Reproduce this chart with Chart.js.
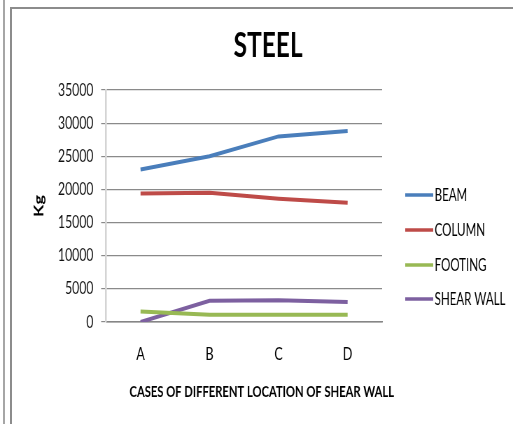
<!DOCTYPE html>
<html>
<head>
<meta charset="utf-8">
<script src="https://cdn.jsdelivr.net/npm/chart.js@4/dist/chart.umd.min.js"></script>
<style>
  html, body { margin: 0; padding: 0; background: #fff; width: 513px; height: 424px; overflow: hidden; }
  /* the chart is laid out on a wider canvas and squeezed horizontally for its condensed look */
  #wrap { position: absolute; left: 0; top: 0; width: 733px; height: 424px; transform: scaleX(0.69986); transform-origin: 0 0; }
  .rule { position: absolute; background: #8c8c8c; }
</style>
</head>
<body>
<div class="rule" style="left:3px;top:0;width:2px;height:424px;background:#a6a6a6"></div>
<div class="rule" style="left:10px;top:7px;width:2px;height:417px"></div>
<div class="rule" style="left:10px;top:7px;width:503px;height:2px"></div>
<div id="wrap"><canvas id="c" width="733" height="424"></canvas></div>
<script>
// Steel quantity (kg) per member type for each shear wall location case
const categories = ['A', 'B', 'C', 'D'];
const beam      = [23000, 25000, 28000, 28800];
const column    = [19400, 19500, 18600, 18000];
const footing   = [1600, 1100, 1100, 1100];
const shearWall = [0, 3200, 3300, 3000];
const yTicks = { min: 0, max: 35000, step: 5000 };

const chartTitle = 'STEEL';
const xTitle = 'CASES OF DIFFERENT LOCATION OF SHEAR WALL';
const yTitle = 'Kg';

const FONT = 'Lato, "Open Sans", sans-serif';

function series(label, data, color) {
  return {
    label, data,
    borderColor: color, backgroundColor: color,
    borderWidth: 4, pointRadius: 0, pointHoverRadius: 0,
    tension: 0, fill: false
  };
}

// Titles and the right-hand legend
const decorations = {
  id: 'decorations',
  afterDraw(chart) {
    const ctx = chart.ctx;
    ctx.save();
    ctx.fillStyle = '#000';

    ctx.font = 'bold 35px ' + FONT;
    ctx.textAlign = 'center';
    ctx.textBaseline = 'alphabetic';
    ctx.fillText(chartTitle, 383, 57);

    ctx.font = 'bold 16px ' + FONT;
    ctx.fillText(xTitle, 374, 397);

    ctx.save();
    ctx.translate(56, 206);
    ctx.rotate(-Math.PI / 2);
    ctx.font = 'bold 18px ' + FONT;
    ctx.textBaseline = 'middle';
    ctx.fillText(yTitle, 0, 0);
    ctx.restore();

    const rowY = [195, 230, 265, 299];
    ctx.font = '16.5px ' + FONT;
    ctx.textAlign = 'left';
    ctx.textBaseline = 'alphabetic';
    chart.data.datasets.forEach((ds, i) => {
      const y = rowY[i];
      ctx.strokeStyle = ds.borderColor;
      ctx.lineWidth = 3.5;
      ctx.beginPath();
      ctx.moveTo(579, y);
      ctx.lineTo(619, y);
      ctx.stroke();
      ctx.fillStyle = '#000';
      ctx.fillText(ds.label, 621, y + 6);
    });
    ctx.restore();
  }
};

new Chart(document.getElementById('c'), {
  type: 'line',
  data: {
    labels: categories,
    datasets: [
      series('BEAM', beam, '#4a7ebb'),
      series('COLUMN', column, '#be4b48'),
      series('FOOTING', footing, '#98b954'),
      series('SHEAR WALL', shearWall, '#7d60a0')
    ]
  },
  options: {
    responsive: false,
    animation: false,
    events: [],
    layout: { padding: { left: 0, right: 187, top: 90, bottom: 0 } },
    plugins: { legend: { display: false }, title: { display: false }, tooltip: { enabled: false } },
    scales: {
      x: {
        offset: true,
        grid: { display: false, drawTicks: false },
        border: { display: true, color: '#868686', width: 1.5 },
        ticks: { color: '#000', padding: 21, font: { family: FONT, size: 18 } },
        afterFit(scale) { scale.height = 102; }
      },
      y: {
        min: yTicks.min, max: yTicks.max,
        grid: { color: '#8a8a8a', lineWidth: 1.2, tickLength: 7, drawTicks: true },
        border: { display: true, color: '#d4d4d4', width: 2.5 },
        ticks: {
          stepSize: yTicks.step, color: '#111', padding: 11,
          font: { family: FONT, size: 17.5 },
          callback: (v) => String(v)
        },
        afterFit(scale) { scale.width = 151.5; }
      }
    }
  },
  plugins: [decorations]
});
</script>
</body>
</html>
